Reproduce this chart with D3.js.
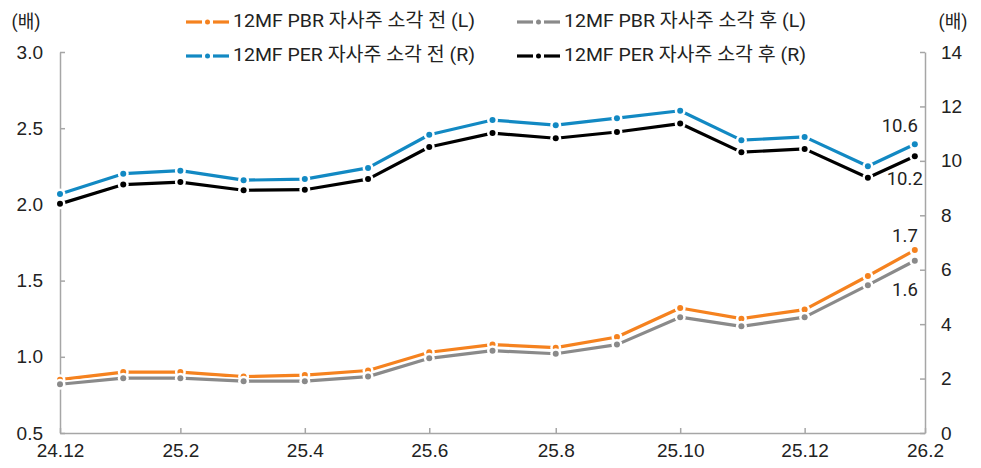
<!DOCTYPE html>
<html>
<head>
<meta charset="utf-8">
<script src="https://cdn.jsdelivr.net/npm/d3@7/dist/d3.min.js"></script>
<style>
  body { margin: 0; background: #fff; }
  svg { font-family: Roboto, "Noto Sans CJK KR", sans-serif; }
  .axis path, .axis line { stroke: #a6a6a6; stroke-width: 1.5; }
  .axis text { fill: #222; font-size: 19px; }
</style>
</head>
<body>
<div id="chart"></div>
<script>
"use strict";

// month-end dates, last one is the latest (intra-month) observation
var dates = ["2024-12-31", "2025-01-31", "2025-02-28", "2025-03-31", "2025-04-30",
  "2025-05-31", "2025-06-30", "2025-07-31", "2025-08-31", "2025-09-30",
  "2025-10-31", "2025-11-30", "2025-12-31", "2026-01-31", "2026-02-23"];

var pbrBefore = [0.85, 0.90, 0.90, 0.87, 0.88, 0.91, 1.03, 1.08, 1.06, 1.13, 1.32, 1.25, 1.31, 1.53, 1.70];
var pbrAfter  = [0.82, 0.86, 0.86, 0.84, 0.84, 0.87, 0.99, 1.04, 1.02, 1.08, 1.26, 1.20, 1.26, 1.47, 1.63];
var perBefore = [8.78, 9.53, 9.64, 9.29, 9.33, 9.74, 10.96, 11.50, 11.31, 11.57, 11.84, 10.76, 10.88, 9.80, 10.61];
var perAfter  = [8.42, 9.13, 9.22, 8.92, 8.94, 9.33, 10.51, 11.02, 10.83, 11.06, 11.37, 10.32, 10.44, 9.38, 10.17];

var xTickDates = ["2024-12-31", "2025-02-28", "2025-04-30", "2025-06-30",
  "2025-08-31", "2025-10-31", "2025-12-31", "2026-02-28"];
var xTickLabels = ["24.12", "25.2", "25.4", "25.6", "25.8", "25.10", "25.12", "26.2"];
var leftTicks = [0.5, 1.0, 1.5, 2.0, 2.5, 3.0];
var rightTicks = [0, 2, 4, 6, 8, 10, 12, 14];

var series = [
  { name: "12MF PBR 자사주 소각 전 (L)", values: pbrBefore, color: "#f5821f", axis: "L" },
  { name: "12MF PBR 자사주 소각 후 (L)", values: pbrAfter, color: "#8a8a8a", axis: "L" },
  { name: "12MF PER 자사주 소각 전 (R)", values: perBefore, color: "#1289c3", axis: "R" },
  { name: "12MF PER 자사주 소각 후 (R)", values: perAfter, color: "#000000", axis: "R" }
];

var width = 981, height = 468;
var margin = { top: 52, right: 56, bottom: 35, left: 60 };
var parse = d3.timeParse("%Y-%m-%d");

var svg = d3.select("#chart").append("svg")
  .attr("width", width)
  .attr("height", height);

var x = d3.scaleTime()
  .domain([parse(xTickDates[0]), parse(xTickDates[xTickDates.length - 1])])
  .range([margin.left, width - margin.right]);
var yL = d3.scaleLinear().domain([0.5, 3.0]).range([height - margin.bottom, margin.top]);
var yR = d3.scaleLinear().domain([0, 14]).range([height - margin.bottom, margin.top]);

// axes
svg.append("g")
  .attr("class", "axis")
  .attr("transform", "translate(0," + (height - margin.bottom) + ")")
  .call(d3.axisBottom(x)
    .tickValues(xTickDates.map(parse))
    .tickSize(-5)
    .tickSizeOuter(0)
    .tickPadding(11)
    .tickFormat(function (d, i) { return xTickLabels[i]; }));

svg.append("g")
  .attr("class", "axis")
  .attr("transform", "translate(" + margin.left + ",0)")
  .call(d3.axisLeft(yL)
    .tickValues(leftTicks)
    .tickSize(-5)
    .tickSizeOuter(0)
    .tickPadding(17)
    .tickFormat(d3.format(".1f")));

svg.append("g")
  .attr("class", "axis")
  .attr("transform", "translate(" + (width - margin.right) + ",0)")
  .call(d3.axisRight(yR)
    .tickValues(rightTicks)
    .tickSize(-5)
    .tickSizeOuter(0)
    .tickPadding(16));

// unit labels
svg.append("text").attr("x", 26).attr("y", 28).attr("text-anchor", "middle")
  .attr("font-size", 18).attr("fill", "#222").text("(배)");
svg.append("text").attr("x", 953).attr("y", 28).attr("text-anchor", "middle")
  .attr("font-size", 18).attr("fill", "#222").text("(배)");

// lines
var plot = svg.append("g");
series.forEach(function (s) {
  var y = s.axis === "L" ? yL : yR;
  var pts = s.values.map(function (v, i) { return [x(parse(dates[i])), y(v)]; });
  var line = d3.line();

  plot.append("path")
    .attr("d", line(pts))
    .attr("fill", "none")
    .attr("stroke", "#fff")
    .attr("stroke-width", 6.5)
    .attr("stroke-linejoin", "round");
  plot.append("path")
    .attr("d", line(pts))
    .attr("fill", "none")
    .attr("stroke", s.color)
    .attr("stroke-width", 3.2)
    .attr("stroke-linejoin", "round");

  plot.selectAll(null).data(pts).enter().append("circle")
    .attr("cx", function (d) { return d[0]; })
    .attr("cy", function (d) { return d[1]; })
    .attr("r", 5.5)
    .attr("fill", "#fff");
  plot.selectAll(null).data(pts).enter().append("circle")
    .attr("cx", function (d) { return d[0]; })
    .attr("cy", function (d) { return d[1]; })
    .attr("r", 3)
    .attr("fill", s.color);
});

// end value labels
var last = dates.length - 1;
var endLabels = [
  { s: 2, dy: -17, text: d3.format(".1f")(perBefore[last]) },
  { s: 3, dy: 24, text: d3.format(".1f")(perAfter[last]) },
  { s: 0, dy: -13, text: d3.format(".1f")(pbrBefore[last]) },
  { s: 1, dy: 30, text: d3.format(".1f")(pbrAfter[last]) }
];
endLabels.forEach(function (l) {
  var s = series[l.s];
  var y = s.axis === "L" ? yL : yR;
  svg.append("text")
    .attr("x", x(parse(dates[last])) + (l.s === 3 ? 8 : 3))
    .attr("y", y(s.values[last]) + l.dy)
    .attr("text-anchor", "end")
    .attr("dominant-baseline", "middle")
    .attr("font-size", 18.5)
    .attr("fill", "#222")
    .text(l.text);
});

// legend
var legendPos = [[186, 22], [517, 22], [186, 56], [517, 56]];
series.forEach(function (s, i) {
  var g = svg.append("g").attr("transform", "translate(" + legendPos[i][0] + "," + legendPos[i][1] + ")");
  g.append("line").attr("x1", 0).attr("x2", 16).attr("stroke", s.color).attr("stroke-width", 3.2);
  g.append("line").attr("x1", 27).attr("x2", 43).attr("stroke", s.color).attr("stroke-width", 3.2);
  g.append("circle").attr("cx", 21.5).attr("r", 2.5).attr("fill", s.color);
  g.append("text")
    .attr("x", 47)
    .attr("dominant-baseline", "middle")
    .attr("font-size", 19)
    .attr("textLength", 242)
    .attr("lengthAdjust", "spacingAndGlyphs")
    .attr("fill", "#222")
    .text(s.name);
});
</script>
</body>
</html>
